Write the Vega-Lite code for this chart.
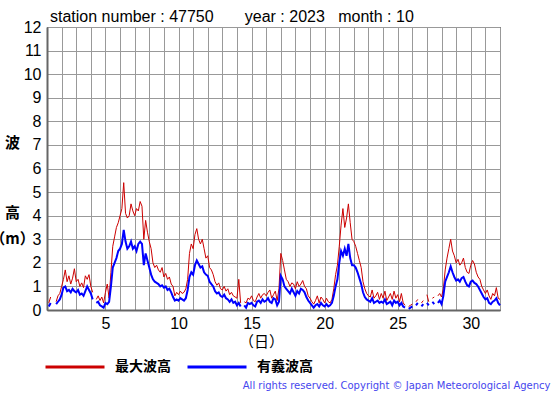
{
  "$schema": "https://vega.github.io/schema/vega-lite/v6.json",
  "autosize": {"type": "none"},
  "padding": {"left": 47, "top": 27, "right": 55, "bottom": 85},
  "width": 453,
  "height": 283,
  "background": "white",
  "config": {
    "view": {"stroke": "#000000", "strokeWidth": 1},
    "font": "Liberation Sans"
  },
  "title": {
    "text": "station number : 47750\u00a0\u00a0\u00a0\u00a0\u00a0\u00a0\u00a0year : 2023\u00a0\u00a0\u00a0month : 10",
    "anchor": "start",
    "frame": "group",
    "dx": 3,
    "offset": -6,
    "font": "Liberation Sans",
    "fontSize": 16,
    "fontWeight": "normal",
    "color": "#000000"
  },
  "data": {"values": [
    {"d":1.0,"max":null,"sig":null},{"d":1.125,"max":0.3,"sig":0.15},{"d":1.25,"max":0.55,"sig":0.3},{"d":1.375,"max":null,"sig":null},{"d":1.5,"max":null,"sig":null},{"d":1.625,"max":0.35,"sig":0.25},{"d":1.75,"max":0.6,"sig":0.35},{"d":1.875,"max":0.7,"sig":0.45},
    {"d":2.0,"max":1.0,"sig":0.65},{"d":2.125,"max":1.3,"sig":0.95},{"d":2.25,"max":1.7,"sig":1.0},{"d":2.375,"max":1.2,"sig":0.8},{"d":2.5,"max":1.45,"sig":0.85},{"d":2.625,"max":1.1,"sig":0.75},{"d":2.75,"max":1.35,"sig":0.9},{"d":2.875,"max":1.75,"sig":0.8},
    {"d":3.0,"max":1.2,"sig":0.75},{"d":3.125,"max":1.3,"sig":0.85},{"d":3.25,"max":1.0,"sig":0.65},{"d":3.375,"max":1.15,"sig":0.7},{"d":3.5,"max":0.95,"sig":0.6},{"d":3.625,"max":1.45,"sig":0.8},{"d":3.75,"max":1.3,"sig":1.0},{"d":3.875,"max":1.5,"sig":0.85},
    {"d":4.0,"max":1.0,"sig":0.7},{"d":4.125,"max":0.75,"sig":0.45},{"d":4.25,"max":null,"sig":null},{"d":4.375,"max":0.45,"sig":0.3},{"d":4.5,"max":0.6,"sig":0.35},{"d":4.625,"max":0.4,"sig":0.2},{"d":4.75,"max":0.55,"sig":0.15},{"d":4.875,"max":0.3,"sig":0.1},
    {"d":5.0,"max":0.75,"sig":0.3},{"d":5.125,"max":1.1,"sig":0.25},{"d":5.25,"max":0.5,"sig":0.35},{"d":5.375,"max":1.6,"sig":1.0},{"d":5.5,"max":2.7,"sig":1.8},{"d":5.625,"max":3.1,"sig":2.0},{"d":5.75,"max":3.5,"sig":2.2},{"d":5.875,"max":3.7,"sig":2.5},
    {"d":6.0,"max":4.0,"sig":2.6},{"d":6.125,"max":4.3,"sig":2.8},{"d":6.25,"max":5.4,"sig":3.4},{"d":6.375,"max":4.1,"sig":2.9},{"d":6.5,"max":3.9,"sig":2.6},{"d":6.625,"max":4.0,"sig":2.7},{"d":6.75,"max":4.5,"sig":2.9},{"d":6.875,"max":4.2,"sig":2.6},
    {"d":7.0,"max":4.0,"sig":2.7},{"d":7.125,"max":4.3,"sig":2.5},{"d":7.25,"max":4.2,"sig":2.8},{"d":7.375,"max":4.6,"sig":2.9},{"d":7.5,"max":4.4,"sig":2.8},{"d":7.625,"max":3.0,"sig":1.9},{"d":7.75,"max":3.8,"sig":2.4},{"d":7.875,"max":3.3,"sig":2.1},
    {"d":8.0,"max":2.9,"sig":1.8},{"d":8.125,"max":2.6,"sig":1.5},{"d":8.25,"max":2.0,"sig":1.3},{"d":8.375,"max":1.8,"sig":1.2},{"d":8.5,"max":1.9,"sig":1.15},{"d":8.625,"max":1.7,"sig":1.1},{"d":8.75,"max":1.6,"sig":1.0},{"d":8.875,"max":1.8,"sig":1.05},
    {"d":9.0,"max":1.4,"sig":0.95},{"d":9.125,"max":1.55,"sig":1.0},{"d":9.25,"max":1.3,"sig":0.85},{"d":9.375,"max":1.4,"sig":0.9},{"d":9.5,"max":1.1,"sig":0.75},{"d":9.625,"max":1.0,"sig":0.55},{"d":9.75,"max":0.6,"sig":0.4},{"d":9.875,"max":0.75,"sig":0.45},
    {"d":10.0,"max":0.65,"sig":0.4},{"d":10.125,"max":0.8,"sig":0.5},{"d":10.25,"max":0.7,"sig":0.45},{"d":10.375,"max":0.75,"sig":0.4},{"d":10.5,"max":0.9,"sig":0.5},{"d":10.625,"max":1.3,"sig":0.85},{"d":10.75,"max":2.4,"sig":1.4},{"d":10.875,"max":2.8,"sig":1.6},
    {"d":11.0,"max":2.6,"sig":1.5},{"d":11.125,"max":3.2,"sig":1.9},{"d":11.25,"max":3.45,"sig":2.1},{"d":11.375,"max":3.0,"sig":1.95},{"d":11.5,"max":2.8,"sig":1.8},{"d":11.625,"max":3.0,"sig":1.85},{"d":11.75,"max":2.6,"sig":1.6},{"d":11.875,"max":2.2,"sig":1.5},
    {"d":12.0,"max":2.3,"sig":1.45},{"d":12.125,"max":1.8,"sig":1.2},{"d":12.25,"max":1.7,"sig":1.1},{"d":12.375,"max":1.5,"sig":1.0},{"d":12.5,"max":1.2,"sig":0.8},{"d":12.625,"max":1.05,"sig":0.7},{"d":12.75,"max":1.15,"sig":0.75},{"d":12.875,"max":0.9,"sig":0.6},
    {"d":13.0,"max":0.85,"sig":0.55},{"d":13.125,"max":1.0,"sig":0.65},{"d":13.25,"max":0.8,"sig":0.5},{"d":13.375,"max":0.9,"sig":0.45},{"d":13.5,"max":0.65,"sig":0.35},{"d":13.625,"max":0.75,"sig":0.45},{"d":13.75,"max":0.6,"sig":0.3},{"d":13.875,"max":0.55,"sig":0.35},
    {"d":14.0,"max":0.5,"sig":0.2},{"d":14.125,"max":1.3,"sig":0.3},{"d":14.25,"max":0.3,"sig":0.15},{"d":14.375,"max":null,"sig":null},{"d":14.5,"max":0.35,"sig":0.2},{"d":14.625,"max":0.3,"sig":0.1},{"d":14.75,"max":0.5,"sig":0.3},{"d":14.875,"max":0.45,"sig":0.25},
    {"d":15.0,"max":0.6,"sig":0.3},{"d":15.125,"max":0.4,"sig":0.2},{"d":15.25,"max":0.35,"sig":0.15},{"d":15.375,"max":0.55,"sig":0.35},{"d":15.5,"max":0.7,"sig":0.4},{"d":15.625,"max":0.5,"sig":0.3},{"d":15.75,"max":0.65,"sig":0.45},{"d":15.875,"max":0.7,"sig":0.35},
    {"d":16.0,"max":0.6,"sig":0.4},{"d":16.125,"max":0.75,"sig":0.5},{"d":16.25,"max":0.85,"sig":0.35},{"d":16.375,"max":0.5,"sig":0.3},{"d":16.5,"max":0.65,"sig":0.5},{"d":16.625,"max":0.8,"sig":0.45},{"d":16.75,"max":0.4,"sig":0.2},{"d":16.875,"max":0.9,"sig":0.35},
    {"d":17.0,"max":2.4,"sig":1.45},{"d":17.125,"max":2.1,"sig":1.3},{"d":17.25,"max":1.7,"sig":1.0},{"d":17.375,"max":1.3,"sig":0.9},{"d":17.5,"max":1.2,"sig":0.8},{"d":17.625,"max":1.0,"sig":0.7},{"d":17.75,"max":1.15,"sig":0.9},{"d":17.875,"max":1.1,"sig":0.75},
    {"d":18.0,"max":0.9,"sig":0.6},{"d":18.125,"max":1.2,"sig":0.8},{"d":18.25,"max":1.0,"sig":0.7},{"d":18.375,"max":1.1,"sig":0.9},{"d":18.5,"max":1.25,"sig":0.85},{"d":18.625,"max":1.0,"sig":0.75},{"d":18.75,"max":0.9,"sig":0.55},{"d":18.875,"max":0.6,"sig":0.4},
    {"d":19.0,"max":0.5,"sig":0.3},{"d":19.125,"max":0.35,"sig":0.2},{"d":19.25,"max":0.25,"sig":0.1},{"d":19.375,"max":0.4,"sig":0.2},{"d":19.5,"max":0.6,"sig":0.25},{"d":19.625,"max":0.3,"sig":0.15},{"d":19.75,"max":0.55,"sig":0.3},{"d":19.875,"max":0.45,"sig":0.2},
    {"d":20.0,"max":0.3,"sig":0.15},{"d":20.125,"max":0.5,"sig":0.25},{"d":20.25,"max":0.35,"sig":0.15},{"d":20.375,"max":0.3,"sig":0.2},{"d":20.5,"max":0.45,"sig":0.3},{"d":20.625,"max":0.9,"sig":0.6},{"d":20.75,"max":1.5,"sig":1.0},{"d":20.875,"max":1.9,"sig":1.3},
    {"d":21.0,"max":2.7,"sig":2.0},{"d":21.125,"max":3.6,"sig":2.5},{"d":21.25,"max":4.3,"sig":2.3},{"d":21.375,"max":3.5,"sig":2.6},{"d":21.5,"max":3.9,"sig":2.3},{"d":21.625,"max":4.5,"sig":2.8},{"d":21.75,"max":3.7,"sig":2.2},{"d":21.875,"max":3.0,"sig":1.9},
    {"d":22.0,"max":2.9,"sig":1.9},{"d":22.125,"max":2.7,"sig":1.8},{"d":22.25,"max":2.4,"sig":1.6},{"d":22.375,"max":2.1,"sig":1.35},{"d":22.5,"max":1.8,"sig":1.1},{"d":22.625,"max":1.2,"sig":0.75},{"d":22.75,"max":0.9,"sig":0.55},{"d":22.875,"max":0.7,"sig":0.45},
    {"d":23.0,"max":0.6,"sig":0.4},{"d":23.125,"max":0.55,"sig":0.35},{"d":23.25,"max":0.85,"sig":0.5},{"d":23.375,"max":0.5,"sig":0.3},{"d":23.5,"max":0.6,"sig":0.35},{"d":23.625,"max":0.75,"sig":0.4},{"d":23.75,"max":0.45,"sig":0.3},{"d":23.875,"max":0.7,"sig":0.35},
    {"d":24.0,"max":0.5,"sig":0.3},{"d":24.125,"max":0.8,"sig":0.45},{"d":24.25,"max":0.4,"sig":0.25},{"d":24.375,"max":0.55,"sig":0.3},{"d":24.5,"max":0.7,"sig":0.35},{"d":24.625,"max":0.45,"sig":0.2},{"d":24.75,"max":0.8,"sig":0.4},{"d":24.875,"max":0.5,"sig":0.3},
    {"d":25.0,"max":0.65,"sig":0.35},{"d":25.125,"max":0.35,"sig":0.2},{"d":25.25,"max":0.7,"sig":0.3},{"d":25.375,"max":0.3,"sig":0.15},{"d":25.5,"max":0.2,"sig":0.1},{"d":25.625,"max":null,"sig":null},{"d":25.75,"max":0.15,"sig":0.05},{"d":25.875,"max":0.2,"sig":0.1},
    {"d":26.0,"max":0.25,"sig":0.15},{"d":26.125,"max":null,"sig":null},{"d":26.25,"max":0.35,"sig":0.2},{"d":26.375,"max":0.45,"sig":0.3},{"d":26.5,"max":null,"sig":null},{"d":26.625,"max":0.3,"sig":0.15},{"d":26.75,"max":0.4,"sig":0.25},{"d":26.875,"max":null,"sig":null},
    {"d":27.0,"max":0.65,"sig":0.3},{"d":27.125,"max":0.35,"sig":0.2},{"d":27.25,"max":null,"sig":null},{"d":27.375,"max":0.5,"sig":0.35},{"d":27.5,"max":0.55,"sig":0.25},{"d":27.625,"max":null,"sig":null},{"d":27.75,"max":0.6,"sig":0.3},{"d":27.875,"max":0.7,"sig":0.4},
    {"d":28.0,"max":0.55,"sig":0.25},{"d":28.125,"max":0.9,"sig":0.6},{"d":28.25,"max":1.7,"sig":1.2},{"d":28.375,"max":2.2,"sig":1.4},{"d":28.5,"max":2.6,"sig":1.6},{"d":28.625,"max":3.0,"sig":1.85},{"d":28.75,"max":2.5,"sig":1.6},{"d":28.875,"max":2.3,"sig":1.4},
    {"d":29.0,"max":2.0,"sig":1.25},{"d":29.125,"max":2.15,"sig":1.3},{"d":29.25,"max":1.9,"sig":1.2},{"d":29.375,"max":2.0,"sig":1.35},{"d":29.5,"max":2.2,"sig":1.4},{"d":29.625,"max":1.8,"sig":1.2},{"d":29.75,"max":1.6,"sig":1.05},{"d":29.875,"max":1.55,"sig":1.0},
    {"d":30.0,"max":1.9,"sig":1.2},{"d":30.125,"max":2.1,"sig":1.25},{"d":30.25,"max":1.95,"sig":1.15},{"d":30.375,"max":1.6,"sig":1.1},{"d":30.5,"max":1.4,"sig":1.0},{"d":30.625,"max":1.3,"sig":0.85},{"d":30.75,"max":1.0,"sig":0.7},{"d":30.875,"max":0.85,"sig":0.55},
    {"d":31.0,"max":0.7,"sig":0.45},{"d":31.125,"max":0.85,"sig":0.5},{"d":31.25,"max":0.6,"sig":0.3},{"d":31.375,"max":0.45,"sig":0.25},{"d":31.5,"max":0.7,"sig":0.35},{"d":31.625,"max":0.6,"sig":0.4},{"d":31.75,"max":0.95,"sig":0.5},{"d":31.875,"max":0.5,"sig":0.3},
    {"d":32.0,"max":0.45,"sig":0.2}
  ]},
  "resolve": {"axis": {"x": "independent", "y": "independent"}},
  "layer": [
    {
      "mark": {"type": "line", "strokeWidth": 1, "invalid": "break-paths-show-domains"},
      "encoding": {
        "x": {
          "field": "d", "type": "quantitative",
          "scale": {"domain": [1, 32], "nice": false, "zero": false},
          "axis": {
            "orient": "bottom",
            "values": [1,2,3,4,5,6,7,8,9,10,11,12,13,14,15,16,17,18,19,20,21,22,23,24,25,26,27,28,29,30,31,32],
            "labelExpr": "datum.value % 5 == 0 ? datum.label : ''",
            "ticks": false,
            "labelPadding": 5,
            "labelFont": "Liberation Sans",
            "labelFontSize": 16,
            "labelColor": "#000000",
            "labelFlush": false,
            "labelOverlap": false,
            "domainColor": "#666666",
            "domainWidth": 2,
            "gridColor": "#999999",
            "gridWidth": 1,
            "gridOpacity": 1,
            "title": "（日）",
            "titleFont": "Noto Sans CJK JP",
            "titleFontSize": 15,
            "titleFontWeight": "normal",
            "titleColor": "#000000",
            "titleX": 214,
            "titleY": 31,
            "titleAlign": "center",
            "titleBaseline": "middle"
          }
        },
        "y": {
          "field": "max", "type": "quantitative",
          "scale": {"domain": [0, 12], "nice": false, "zero": true},
          "axis": {
            "orient": "left",
            "values": [0,1,2,3,4,5,6,7,8,9,10,11,12],
            "ticks": false,
            "labelPadding": 6,
            "labelFont": "Liberation Sans",
            "labelFontSize": 16,
            "labelColor": "#000000",
            "labelFlush": false,
            "labelOverlap": false,
            "domainColor": "#666666",
            "domainWidth": 2,
            "gridColor": "#999999",
            "gridWidth": 1,
            "gridOpacity": 1,
            "title": "波",
            "titleFont": "Noto Sans CJK JP",
            "titleFontSize": 15,
            "titleFontWeight": "bold",
            "titleColor": "#000000",
            "titleAngle": 0,
            "titleX": -35,
            "titleY": 115.7,
            "titleAlign": "center",
            "titleBaseline": "middle"
          }
        },
        "color": {
          "datum": "最大波高",
          "type": "nominal",
          "scale": {"domain": ["最大波高", "有義波高"], "range": ["#cc0000", "#0000ff"]},
          "legend": {
            "orient": "none",
            "legendX": -3,
            "legendY": 309,
            "direction": "horizontal",
            "title": null,
            "padding": 0,
            "symbolType": "stroke",
            "symbolSize": 3481,
            "symbolStrokeWidth": 3,
            "labelFont": "Noto Sans CJK JP",
            "labelFontSize": 14,
            "labelFontWeight": "bold",
            "labelColor": "#000000",
            "labelOffset": 9,
            "columnPadding": 10
          }
        }
      }
    },
    {
      "mark": {"type": "line", "strokeWidth": 2, "invalid": "break-paths-show-domains"},
      "encoding": {
        "x": {
          "field": "d", "type": "quantitative",
          "scale": {"domain": [1, 32], "nice": false, "zero": false},
          "axis": {
            "orient": "bottom",
            "domain": false,
            "ticks": false,
            "labels": false,
            "grid": false,
            "title": "All rights reserved. Copyright © Japan Meteorological Agency",
            "titleFont": "DejaVu Sans",
            "titleFontSize": 10,
            "titleFontWeight": "normal",
            "titleColor": "#4646ee",
            "titleX": 503,
            "titleY": 75,
            "titleAlign": "right",
            "titleBaseline": "middle"
          }
        },
        "y": {
          "field": "sig", "type": "quantitative",
          "scale": {"domain": [0, 12], "nice": false, "zero": true},
          "axis": {
            "orient": "left",
            "domain": false,
            "ticks": false,
            "labels": false,
            "grid": false,
            "title": ["高", "（m）"],
            "titleFont": "Noto Sans CJK JP",
            "titleFontSize": 15,
            "titleFontWeight": "bold",
            "titleColor": "#000000",
            "titleLineHeight": 25.5,
            "titleAngle": 0,
            "titleX": -35,
            "titleY": 185.5,
            "titleAlign": "center",
            "titleBaseline": "middle"
          }
        },
        "color": {"datum": "有義波高", "type": "nominal"}
      }
    }
  ]
}
